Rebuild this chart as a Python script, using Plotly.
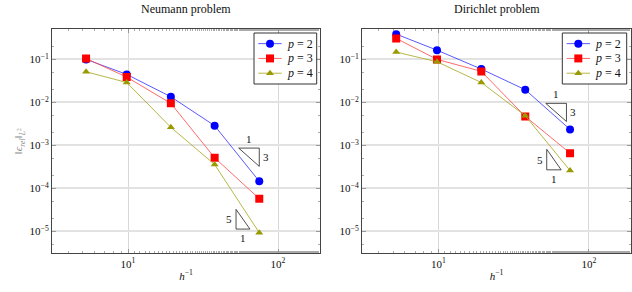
import math
import plotly.graph_objects as go

# ---- data ----
h_inv = [5.25, 9.8, 19.3, 37.8, 75.0]

neumann_p2 = [0.100, 0.0448, 0.0135, 0.00287, 1.46e-4]
neumann_p3 = [0.105, 0.0388, 0.0095, 5.16e-4, 5.75e-5]
neumann_p4 = [0.0516, 0.029, 0.00263, 3.6e-4, 9.3e-6]

dirichlet_p2 = [0.387, 0.164, 0.0596, 0.0197, 0.00235]
dirichlet_p3 = [0.308, 0.100, 0.0526, 0.00472, 6.6e-4]
dirichlet_p4 = [0.148, 0.088, 0.029, 0.0049, 2.6e-4]

series_names = ["<i>p</i> = 2", "<i>p</i> = 3", "<i>p</i> = 4"]
titles = ["Neumann problem", "Dirichlet problem"]

y_tickvals = [1e-5, 1e-4, 1e-3, 1e-2, 1e-1]
y_ticktext = ["10<sup>−5</sup>", "10<sup>−4</sup>", "10<sup>−3</sup>", "10<sup>−2</sup>", "10<sup>−1</sup>"]
x_tickvals = [10, 100]
x_ticktext = ["10<sup>1</sup>", "10<sup>2</sup>"]

# slope triangles: (x_left, x_right, y_top, y_bottom, label_a, label_b, kind)
tri_neumann = [(54.7, 75.0, 8.65e-4, 3.25e-4, "1", "3", "upper"),
               (52.5, 65.0, 3.25e-5, 1.13e-5, "5", "1", "lower")]
tri_dirichlet = [(51.7, 71.0, 9.5e-3, 3.6e-3, "1", "3", "upper"),
                 (52.5, 65.5, 8.1e-4, 2.7e-4, "5", "1", "lower")]

# ---- styling ----
FONT = "Liberation Serif, Times New Roman, serif"
line_colors = ["rgba(60,60,255,0.85)", "rgba(255,80,80,0.85)", "rgba(170,170,40,0.85)"]
marker_colors = ["#0000ff", "#ff0000", "#999900"]
symbols = ["circle", "square", "triangle-up"]
msizes = [8, 8, 7]

W, H = 632, 292
x_dom = [(52 / W, 320 / W), (362 / W, 631 / W)]
y_dom = (1 - 253.3 / H, 1 - 29.3 / H)
x_range = [0.493, 2.28]
y_range = [-5.51, -0.30]

# legend boxes in pixel space (left, right, top, bottom)
legend_boxes = [(254.0, 316.7, 33.0, 84.0), (562.3, 626.7, 33.0, 84.0)]

fig = go.Figure()

data_sets = [[neumann_p2, neumann_p3, neumann_p4],
             [dirichlet_p2, dirichlet_p3, dirichlet_p4]]
tri_sets = [tri_neumann, tri_dirichlet]

for k in range(2):
    xa = "x" if k == 0 else "x2"
    ya = "y" if k == 0 else "y2"
    for i, ys in enumerate(data_sets[k]):
        fig.add_trace(go.Scatter(
            x=h_inv, y=ys, mode="lines+markers", name=series_names[i],
            line=dict(color=line_colors[i], width=1),
            marker=dict(color=marker_colors[i], symbol=symbols[i], size=msizes[i],
                        line=dict(width=0)),
            xaxis=xa, yaxis=ya, showlegend=False,
        ))
    for (xl, xr, yt, yb, lab_a, lab_b, kind) in tri_sets[k]:
        if kind == "upper":
            tx = [xl, xr, xr, xl]
            ty = [yt, yt, yb, yt]
        else:
            tx = [xl, xl, xr, xl]
            ty = [yt, yb, yb, yt]
        fig.add_trace(go.Scatter(x=tx, y=ty, mode="lines", showlegend=False,
                                 line=dict(color="#222", width=0.8),
                                 hoverinfo="skip", xaxis=xa, yaxis=ya))
        lxm = (math.log10(xl) + math.log10(xr)) / 2
        lym = (math.log10(yt) + math.log10(yb)) / 2
        fnt = dict(family=FONT, size=11, color="#111")
        if kind == "upper":
            fig.add_annotation(x=lxm, y=math.log10(yt), text=lab_a, showarrow=False,
                               yshift=9, xref=xa, yref=ya, font=fnt)
            fig.add_annotation(x=math.log10(xr), y=lym, text=lab_b, showarrow=False,
                               xshift=7, xref=xa, yref=ya, font=fnt)
        else:
            fig.add_annotation(x=math.log10(xl), y=lym, text=lab_a, showarrow=False,
                               xshift=-7, xref=xa, yref=ya, font=fnt)
            fig.add_annotation(x=lxm, y=math.log10(yb), text=lab_b, showarrow=False,
                               yshift=-9, xref=xa, yref=ya, font=fnt)

# ---- hand-made legends on a pixel-space overlay axis ----
for (bl, br, bt, bb) in legend_boxes:
    fig.add_trace(go.Scatter(x=[bl, br, br, bl, bl], y=[bt, bt, bb, bb, bt],
                             mode="lines", fill="toself", fillcolor="white",
                             line=dict(color="#333", width=1), showlegend=False,
                             hoverinfo="skip", xaxis="x3", yaxis="y3"))
    row_h = (bb - bt) / 3.45
    for i in range(3):
        yc = bt + row_h * (0.72 + i)
        x0 = bl + 4.3
        x1 = x0 + 23.4
        fig.add_trace(go.Scatter(x=[x0, x1], y=[yc, yc], mode="lines",
                                 line=dict(color=line_colors[i], width=1),
                                 showlegend=False, hoverinfo="skip",
                                 xaxis="x3", yaxis="y3"))
        fig.add_trace(go.Scatter(x=[(x0 + x1) / 2], y=[yc], mode="markers",
                                 marker=dict(color=marker_colors[i], symbol=symbols[i],
                                             size=msizes[i], line=dict(width=0)),
                                 showlegend=False, hoverinfo="skip",
                                 xaxis="x3", yaxis="y3"))
        fig.add_annotation(x=x1 + 3, y=yc, xref="x3", yref="y3", text=series_names[i],
                           showarrow=False, xanchor="left", yanchor="middle",
                           font=dict(family=FONT, size=12, color="#111"))

axis_common = dict(
    showline=True, linecolor="#444", linewidth=1, mirror="allticks",
    ticks="inside", ticklen=4, tickcolor="#999", tickwidth=1,
    minor=dict(ticks="inside", ticklen=2, tickcolor="#aaa", showgrid=False),
    zeroline=False, automargin=False,
    tickfont=dict(family=FONT, size=11, color="#111"),
)

for k in range(2):
    xkey = "xaxis" if k == 0 else "xaxis2"
    ykey = "yaxis" if k == 0 else "yaxis2"
    fig.update_layout(**{
        xkey: dict(axis_common, type="log", domain=list(x_dom[k]), range=x_range,
                   tickvals=x_tickvals, ticktext=x_ticktext,
                   showgrid=True, gridcolor="#d8d8d8", gridwidth=1,
                   anchor="y" if k == 0 else "y2",
                   title=dict(text="<i>h</i><sup>−1</sup>", standoff=3,
                              font=dict(family=FONT, size=11, color="#111"))),
        ykey: dict(axis_common, type="log", domain=list(y_dom), range=y_range,
                   tickvals=y_tickvals, ticktext=y_ticktext,
                   showgrid=True, gridcolor="#e2e2e2", gridwidth=2,
                   anchor="x" if k == 0 else "x2"),
    })
    fig.add_annotation(x=(x_dom[k][0] + x_dom[k][1]) / 2, y=1 - 9.5 / H,
                       xref="paper", yref="paper", text=titles[k], showarrow=False,
                       xanchor="center", yanchor="middle",
                       font=dict(family=FONT, size=12, color="#111"))

fig.update_layout(
    xaxis3=dict(domain=[0, 1], range=[0, W], visible=False, anchor="y3", fixedrange=True),
    yaxis3=dict(domain=[0, 1], range=[H, 0], visible=False, anchor="x3", fixedrange=True),
)

fig.update_layout(yaxis_title=dict(text="‖<i>ϵ<sub>rel</sub></i>‖<sub><i>L</i><sup>2</sup></sub>",
                                   standoff=4, font=dict(family=FONT, size=11, color="#888")))

fig.update_layout(
    width=W, height=H,
    margin=dict(l=0, r=0, t=0, b=0),
    paper_bgcolor="white", plot_bgcolor="rgba(0,0,0,0)",
    showlegend=False,
)

fig.write_html("out.html", config={"displayModeBar": False},
               post_script="document.body.style.margin='0px';")
